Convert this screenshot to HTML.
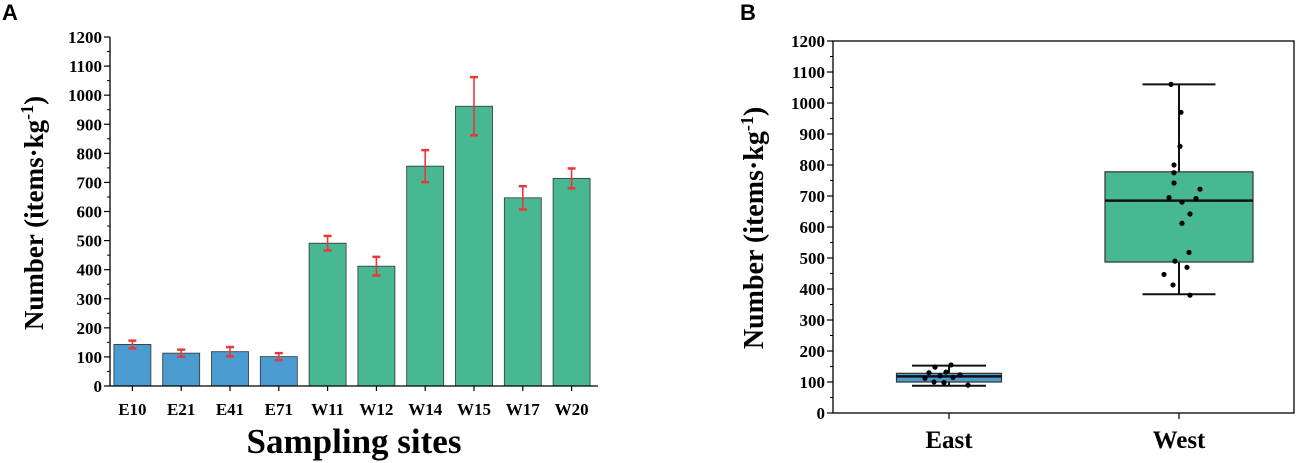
<!DOCTYPE html>
<html><head><meta charset="utf-8"><style>
body{margin:0;background:#fff;}
svg{display:block;}
svg text{font-family:"Liberation Serif",serif;font-weight:bold;}
svg text.sans{font-family:"Liberation Sans",sans-serif;}
</style></head><body>
<svg id="s" width="1296" height="463" viewBox="0 0 1296 463">
<text class="sans" x="2" y="20" font-size="22">A</text>
<text class="sans" x="740" y="20" font-size="22">B</text>
<g id="ga"></g>
<g id="gb"></g>
</svg>
<script>
const sites=["E10","E21","E41","E71","W11","W12","W14","W15","W17","W20"];
const means=[143,113,118,101,491,412,756,962,647,714];
const errs=[13,12,16,12,25,32,55,100,40,34];
const yTicks=[0,100,200,300,400,500,600,700,800,900,1000,1100,1200];
const groups=["East","West"];
const q1=[100,487];const q3=[128,778];const med=[118,685];const wLo=[88,383];const wHi=[153,1060];
const eastPts=[148,155,130,112,120,132,115,123,100,98,90];
const eastJit=[-14,2,-20,-24,-9,-3,4,11,-15,-5,19];
const westPts=[1060,970,860,800,775,742,695,680,722,692,642,612,518,490,470,447,413,380];
const westJit=[-8,2,1,-5,-5,-5,-10,3,21,17,11,3,10,-4,8,-15,-6,11];
const NS="http://www.w3.org/2000/svg";
function mk(p,t,a){const e=document.createElementNS(NS,t);for(const k in a)e.setAttribute(k,a[k]);p.appendChild(e);return e;}
// Panel A
const ga=document.getElementById('ga');
const ax0=110,ax1=598,ay0=386,ay1=37;
const ya=v=>ay0-(v/1200)*(ay0-ay1);
const step=(ax1-ax0)/sites.length;
const xa=i=>ax0+step*(i+0.5)-2;
sites.forEach((s,i)=>{
 const b=mk(ga,'rect',{x:xa(i)-18.5,y:ya(means[i]),width:37,height:ay0-ya(means[i]),fill:i<4?'#4a9bd0':'#47b892',stroke:'#333','stroke-width':0.8});
 
 
 const eg=mk(ga,'g',{stroke:'#e8383a','stroke-width':1.6});
 
 
 const t=ya(means[i]+errs[i]),bo=ya(means[i]-errs[i]);
 mk(eg,'line',{x1:xa(i),x2:xa(i),y1:t,y2:bo});
 mk(eg,'line',{x1:xa(i)-4,x2:xa(i)+4,y1:t,y2:t,'stroke-width':2.5});
 mk(eg,'line',{x1:xa(i)-4,x2:xa(i)+4,y1:bo,y2:bo,'stroke-width':2.5});
 mk(ga,'line',{x1:xa(i),x2:xa(i),y1:ay0,y2:ay0+5,stroke:'#000','stroke-width':1.2});
 const tl=mk(ga,'text',{x:xa(i),y:ay0+29,'text-anchor':'middle','font-size':17});tl.textContent=s;
 
 
});
mk(ga,'line',{x1:ax0,x2:ax0,y1:ay1,y2:ay0,stroke:'#000','stroke-width':1.3});
mk(ga,'line',{x1:ax0,x2:ax1,y1:ay0,y2:ay0,stroke:'#000','stroke-width':1.3});
yTicks.forEach(v=>{
 mk(ga,'line',{x1:ax0-6,x2:ax0,y1:ya(v),y2:ya(v),stroke:'#000','stroke-width':1.2});
 if(v<1200)mk(ga,'line',{x1:ax0-3,x2:ax0,y1:ya(v+50),y2:ya(v+50),stroke:'#000','stroke-width':1});
 const t=mk(ga,'text',{x:ax0-8,y:ya(v)+6,'text-anchor':'end','font-size':17});t.textContent=v;
 
 
});
let t=mk(ga,'text',{transform:'translate(43,213) rotate(-90)','text-anchor':'middle','font-size':27});
t.innerHTML='Number (items·kg<tspan dy="-10" font-size="18">-1</tspan><tspan dy="10">)</tspan>';

t=mk(ga,'text',{x:354,y:453,'text-anchor':'middle','font-size':35});t.textContent='Sampling sites';

// Panel B
const gb=document.getElementById('gb');
const bx0=833,bx1=1294,by0=413,by1=41;
const yb=v=>by0-(v/1200)*(by0-by1);
const cx=[949,1179];const bw=[105,148];const ww=[74,73];
mk(gb,'rect',{x:bx0,y:by1,width:bx1-bx0,height:by0-by1,fill:'none',stroke:'#000','stroke-width':1.3});
yTicks.forEach(v=>{
 mk(gb,'line',{x1:bx0-6,x2:bx0,y1:yb(v),y2:yb(v),stroke:'#000','stroke-width':1.2});
 if(v<1200)mk(gb,'line',{x1:bx0-3,x2:bx0,y1:yb(v+50),y2:yb(v+50),stroke:'#000','stroke-width':1});
 const t=mk(gb,'text',{x:bx0-8,y:yb(v)+6,'text-anchor':'end','font-size':17});t.textContent=v;
 
 
});
groups.forEach((g,i)=>{
 const c=cx[i];
 const gg=mk(gb,'g',{});
 
 
 mk(gg,'line',{x1:c,x2:c,y1:yb(wLo[i]),y2:yb(wHi[i]),stroke:'#111','stroke-width':2});
 mk(gg,'rect',{x:c-bw[i]/2,y:yb(q3[i]),width:bw[i],height:yb(q1[i])-yb(q3[i]),fill:i?'#47b892':'#4a9bd0',stroke:'#333','stroke-width':1.2});
 mk(gg,'line',{x1:c-bw[i]/2,x2:c+bw[i]/2,y1:yb(med[i]),y2:yb(med[i]),stroke:'#111','stroke-width':2.5});
 mk(gg,'line',{x1:c-ww[i]/2,x2:c+ww[i]/2,y1:yb(wLo[i]),y2:yb(wLo[i]),stroke:'#111','stroke-width':2});
 mk(gg,'line',{x1:c-ww[i]/2,x2:c+ww[i]/2,y1:yb(wHi[i]),y2:yb(wHi[i]),stroke:'#111','stroke-width':2});
 mk(gb,'line',{x1:c,x2:c,y1:by0,y2:by0+6,stroke:'#000','stroke-width':1.2});
 const tl=mk(gb,'text',{x:c,y:by0+35,'text-anchor':'middle','font-size':25});tl.textContent=g;
 
 
});
eastPts.forEach((v,j)=>{const p=mk(gb,'circle',{cx:cx[0]+eastJit[j],cy:yb(v),r:2.6,fill:'#000'});
 });
westPts.forEach((v,j)=>{const p=mk(gb,'circle',{cx:cx[1]+westJit[j],cy:yb(v),r:2.6,fill:'#000'});
 });
t=mk(gb,'text',{transform:'translate(763,228) rotate(-90)','text-anchor':'middle','font-size':28});
t.innerHTML='Number (items·kg<tspan dy="-10" font-size="18">-1</tspan><tspan dy="10">)</tspan>';

</script>
</body></html>
